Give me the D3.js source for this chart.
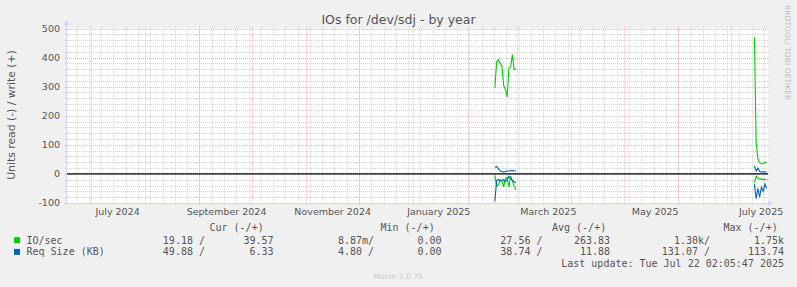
<!DOCTYPE html>
<html>
<head>
<meta charset="utf-8">
<script src="https://cdn.jsdelivr.net/npm/d3@7"></script>
<style>
body { margin: 0; background: #f0f0f0; }
svg { display: block; }
text { white-space: pre; }
</style>
</head>
<body>
<script>
// daily points (one per day, only where the rrd had data)
const days = [
  "2025-02-16", "2025-02-17", "2025-02-18", "2025-02-19", "2025-02-20", "2025-02-21", "2025-02-22",
  "2025-02-23", "2025-02-24", "2025-02-25", "2025-02-26", "2025-02-27", "2025-02-28",
  "2025-07-14", "2025-07-15", "2025-07-16", "2025-07-17", "2025-07-18", "2025-07-19", "2025-07-20", "2025-07-21"
];
// IO/sec, write (+) and read (-)
const ioWrite = [296, 385, 393, 380, 372, 305, 290, 265, 365, 368, 410, 358, 362,
                 470, 108, 52, 38, 35, 35, 40, 39.6];
const ioRead = [-5, -42, -38, -20, -22, -45, -15, -12, -45, -8, -25, -42, -55,
                -30, -8, -16, -17, -18, -18, -19, -19.2];
// Req Size (KB), write (+) and read (-)
const reqWrite = [23, 26, 18, 10, 8, 6, 8, 10, 10, 11, 12, 10, 10,
                  28, 10, 20, 8, 7, 7, 6.5, 6.3];
const reqRead = [-95, -22, -20, -25, -22, -20, -27, -20, -8, -18, -22, -28, -30,
                 -35, -85, -50, -80, -45, -60, -35, -50];

const yTicks = [-100, 0, 100, 200, 300, 400, 500];
const xLabels = ["July 2024", "September 2024", "November 2024", "January 2025", "March 2025", "May 2025", "July 2025"];
const xLabelAt = ["2024-07-16T08:00Z", "2024-09-16T12:00Z", "2024-11-16T00:00Z", "2025-01-15T12:00Z",
                  "2025-03-19T00:00Z", "2025-05-18T22:00Z", "2025-07-18T08:00Z"];

// legend
const legendNames = ["IO/sec", "Req Size (KB)"];
const legendColors = ["#00cc00", "#0066b3"];
const legendHead = ["Cur (-/+)", "Min (-/+)", "Avg (-/+)", "Max (-/+)"];
const curVals = [["19.18 /", "39.57"], ["49.88 /", "6.33"]];
const minVals = [["8.87m/", "0.00"], ["4.80 /", "0.00"]];
const avgVals = [["27.56 /", "263.83"], ["38.74 /", "11.88"]];
const maxVals = [["1.30k/", "1.75k"], ["131.07 /", "113.74"]];

const W = 797, H = 287;
const pLeft = 67, pRight = 768, pTop = 28.5, pBottom = 203;
const start = new Date("2024-06-17T02:05:47Z");
const end = new Date("2025-07-22T02:05:47Z");

const x = d3.scaleUtc().domain([start, end]).range([66.3, 767.7]);
const y = d3.scaleLinear().domain([-100, 500]).range([pBottom, pTop]);

const sans = "DejaVu Sans, sans-serif";
const mono = "DejaVu Sans Mono, monospace";
const fg = "#555";
const gridCol = "#d2d2d2";
const mgridCol = "#f0b4b4";

const svg = d3.select("body")
.append("svg")
.attr("width", W)
.attr("height", H)

svg.append("rect")
.attr("width", W)
.attr("height", H)
.attr("fill", "#f0f0f0")

// canvas
svg.append("rect")
.attr("x", pLeft)
.attr("y", pTop)
.attr("width", pRight - pLeft)
.attr("height", pBottom - pTop)
.attr("fill", "#ffffff")

// horizontal grid, minor every 20, major every 100
const yGrid = d3.range(-100, 501, 20);
svg.selectAll(".hgrid")
.data(yGrid)
.enter()
.append("line")
.attr("x1", pLeft - 2)
.attr("x2", pRight + 2)
.attr("y1", d => Math.round(y(d)) + 0.5)
.attr("y2", d => Math.round(y(d)) + 0.5)
.attr("stroke", d => d % 100 === 0 ? mgridCol : gridCol)
.attr("stroke-dasharray", "1,1")

// vertical grid: weeks and months
const weeks = d3.utcSunday.range(start, end);
const months = d3.utcMonth.range(start, end);
svg.selectAll(".wgrid")
.data(weeks)
.enter()
.append("line")
.attr("x1", d => Math.round(x(d)) + 0.5)
.attr("x2", d => Math.round(x(d)) + 0.5)
.attr("y1", pTop - 2)
.attr("y2", pBottom + 2)
.attr("stroke", gridCol)
.attr("stroke-dasharray", "1,1")

svg.selectAll(".mgrid")
.data(months)
.enter()
.append("line")
.attr("x1", d => Math.round(x(d)) + 0.5)
.attr("x2", d => Math.round(x(d)) + 0.5)
.attr("y1", pTop - 2)
.attr("y2", pBottom + 2)
.attr("stroke", mgridCol)
.attr("stroke-dasharray", "1,1")

// axes
const axisCol = "#cfd6f8";
const yAxisBase = Math.round(y(-100)) + 0.5;
svg.append("line")
.attr("x1", pLeft - 0.5).attr("x2", pLeft - 0.5)
.attr("y1", pBottom + 2).attr("y2", 24)
.attr("stroke", axisCol)
svg.append("path")
.attr("d", `M${pLeft - 3.5},25 L${pLeft + 2.5},25 L${pLeft - 0.5},20 Z`)
.attr("fill", axisCol)
svg.append("line")
.attr("x1", pLeft - 3).attr("x2", pRight + 2)
.attr("y1", yAxisBase).attr("y2", yAxisBase)
.attr("stroke", axisCol)
svg.append("path")
.attr("d", `M${pRight},${yAxisBase - 3} L${pRight},${yAxisBase + 3} L${pRight + 5},${yAxisBase} Z`)
.attr("fill", axisCol)

// zero line
svg.append("line")
.attr("x1", pLeft)
.attr("x2", pRight)
.attr("y1", y(0))
.attr("y2", y(0))
.attr("stroke", "#000")
.attr("stroke-width", 1.3)

// y tick labels
svg.selectAll(".ylab")
.data(yTicks)
.enter()
.append("text")
.attr("x", 60)
.attr("y", d => y(d))
.attr("dy", "0.36em")
.attr("text-anchor", "end")
.style("font-family", sans)
.style("font-size", "9.5px")
.style("fill", fg)
.text(d => d)

// x tick labels
svg.selectAll(".xlab")
.data(xLabels)
.enter()
.append("text")
.attr("x", (d, i) => x(new Date(xLabelAt[i])))
.attr("y", 215)
.attr("text-anchor", "middle")
.style("font-family", sans)
.style("font-size", "9.5px")
.style("fill", fg)
.text(d => d)

// series lines, split wherever a day is missing
const pts = days.map((d, i) => ({ t: new Date(d + "T12:00:00Z"), i: i }));
const segments = [];
pts.forEach((p, k) => {
  if (k === 0 || p.t - pts[k - 1].t > 1.5 * 864e5) segments.push([]);
  segments[segments.length - 1].push(p);
});

const series = [
  { vals: ioWrite, color: legendColors[0] },
  { vals: ioRead, color: legendColors[0] },
  { vals: reqWrite, color: legendColors[1] },
  { vals: reqRead, color: legendColors[1] }
];
series.forEach(s => {
  const line = d3.line()
  .x(p => x(p.t))
  .y(p => y(s.vals[p.i]));
  svg.selectAll(null)
  .data(segments)
  .enter()
  .append("path")
  .attr("d", line)
  .attr("fill", "none")
  .attr("stroke", s.color)
  .attr("stroke-width", 1.1)
});

// title and side texts
svg.append("text")
.attr("x", 398.5)
.attr("y", 23.5)
.attr("text-anchor", "middle")
.style("font-family", sans)
.style("font-size", "12.5px")
.style("fill", fg)
.text("IOs for /dev/sdj - by year")

svg.append("text")
.attr("transform", "translate(14.5,115) rotate(-90)")
.attr("text-anchor", "middle")
.style("font-family", sans)
.style("font-size", "10.8px")
.style("fill", fg)
.text("Units read (-) / write (+)")

svg.append("text")
.attr("transform", "translate(784.5,5) rotate(90)")
.style("font-family", sans)
.style("font-size", "7.6px")
.style("fill", "#bdbdbd")
.text("RRDTOOL/ TOBI OETIKER")

// legend
const headX = [209.5, 380.5, 552, 723.5];
svg.selectAll(".lhead")
.data(legendHead)
.enter()
.append("text")
.attr("x", (d, i) => headX[i])
.attr("y", 231)
.style("font-family", mono)
.style("font-size", "10px")
.style("fill", fg)
.text(d => d)

const rowY = [243.7, 255.4];
svg.selectAll(".lbox")
.data(legendColors)
.enter()
.append("rect")
.attr("x", 14)
.attr("y", (d, i) => rowY[i] - 6.5)
.attr("width", 6)
.attr("height", 6)
.attr("fill", d => d)

svg.selectAll(".lname")
.data(legendNames)
.enter()
.append("text")
.attr("x", 26.5)
.attr("y", (d, i) => rowY[i])
.style("font-family", mono)
.style("font-size", "10px")
.style("fill", fg)
.text(d => d)

const cols = [
  { vals: curVals, ends: [205, 273.5] },
  { vals: minVals, ends: [374, 441.5] },
  { vals: avgVals, ends: [542.5, 610] },
  { vals: maxVals, ends: [710, 784] }
];
cols.forEach(c => {
  c.vals.forEach((row, r) => {
    row.forEach((v, j) => {
      svg.append("text")
      .attr("x", c.ends[j])
      .attr("y", rowY[r])
      .attr("text-anchor", "end")
      .style("font-family", mono)
      .style("font-size", "10px")
      .style("fill", fg)
      .text(v)
    })
  })
});

svg.append("text")
.attr("x", 784)
.attr("y", 267)
.attr("text-anchor", "end")
.style("font-family", mono)
.style("font-size", "10px")
.style("fill", fg)
.text("Last update: Tue Jul 22 02:05:47 2025")

svg.append("text")
.attr("x", 398)
.attr("y", 279)
.attr("text-anchor", "middle")
.style("font-family", sans)
.style("font-size", "7.6px")
.style("fill", "#c8c8c8")
.text("Munin 2.0.75")
</script>
</body>
</html>
